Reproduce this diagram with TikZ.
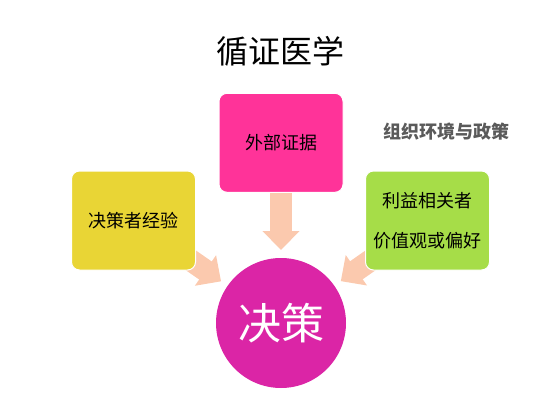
\documentclass[tikz,border=0pt]{standalone}
\usepackage{fontspec}
\setmainfont{Noto Sans CJK SC}
\usetikzlibrary{arrows.meta, backgrounds, positioning}
\definecolor{myrose}{HTML}{FF3399}
\definecolor{myyellow}{HTML}{E9D535}
\definecolor{mygreen}{HTML}{A6DD48}
\definecolor{mymagenta}{HTML}{DB25A6}
\definecolor{mypeach}{HTML}{FBC9AE}
\definecolor{mygray}{HTML}{5A5A5A}
\tikzset{
  factorbox/.style={rectangle, rounded corners=8pt, draw=white, line width=1pt,
    minimum width=124pt, minimum height=99pt, font=\fontsize{18}{40}\selectfont, align=center},
  fatarrow/.style={-{Triangle[width=36pt, length=19pt]}, mypeach, line width=22pt, shorten >=73pt},
}

\begin{document}
\begin{tikzpicture}[x=1pt, y=-1pt]
  \useasboundingbox (0,0) rectangle (560,420);
  \node (title) at (280,51) {\fontsize{32}{32}\selectfont 循证医学};

  \node[circle, fill=mymagenta, minimum size=130pt, text=white,
    font=\fontsize{43}{43}\selectfont] (dec) at (281,323) {决策};
  \node[factorbox, fill=myrose, above=65pt of dec] (evid) {外部证据};
  \node[factorbox, fill=myyellow] (exp) at (133.5,220.5) {决策者经验};
  \node[factorbox, fill=mygreen] (pref) at (427.5,220.5) {利益相关者\\价值观或偏好};
  \node[text=mygray, font=\fontsize{18}{18}\selectfont\bfseries] (env) at (446,132) {组织环境与政策};

  % arrows sit behind the boxes
  \begin{scope}[on background layer]
    \foreach \src in {evid, exp, pref}
      \draw[fatarrow] (\src.center) -- (dec.center);
  \end{scope}
\end{tikzpicture}
\end{document}
